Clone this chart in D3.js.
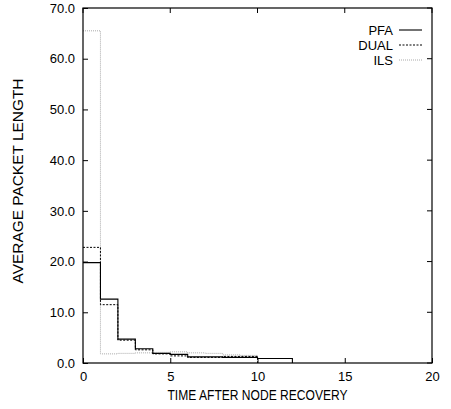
<!DOCTYPE html>
<html>
<head>
<meta charset="utf-8">
<script src="https://cdn.jsdelivr.net/npm/d3@7"></script>
<style>
  body { margin: 0; background: #fff; }
  text { font-family: "Liberation Sans", Arial, sans-serif; font-size: 12px; fill: #000; }
</style>
</head>
<body>
<div id="chart"></div>
<script>
// step values, one per unit interval starting at x = 0
const seriesNames = ['PFA', 'DUAL', 'ILS'];
const pfaValues = [19.8, 12.6, 4.7, 2.8, 1.9, 1.7, 1.2, 1.2, 1.1, 1.1, 0.9, 0.9];
const dualValues = [22.8, 11.5, 4.5, 2.6, 1.8, 1.4, 1.1, 1.1, 1.3, 1.3];
const ilsValues = [65.5, 1.8, 1.9, 2.0, 2.1, 2.2, 2.0, 1.9, 1.6, 1.5];
const xTicks = [0, 5, 10, 15, 20];
const yTicks = [0, 10, 20, 30, 40, 50, 60, 70];

const width = 451;
const height = 409;
const margin = { top: 8, right: 19, bottom: 46, left: 83 };
const innerWidth = width - margin.left - margin.right;
const innerHeight = height - margin.top - margin.bottom;
const fontFamily = '"Liberation Sans", Arial, sans-serif';

const svg = d3.select('#chart')
    .append('svg')
    .attr('width', width)
    .attr('height', height);

const chart = svg.append('g')
    .attr('transform', `translate(${margin.left}, ${margin.top})`);

const xScale = d3.scaleLinear().domain([0, 20]).range([0, innerWidth]);
const yScale = d3.scaleLinear().domain([0, 70]).range([innerHeight, 0]);

// axes with inward ticks
const tickLen = 5;
chart.append('g')
    .attr('transform', `translate(0, ${innerHeight})`)
    .call(d3.axisBottom(xScale).tickValues(xTicks).tickSizeInner(-tickLen).tickSizeOuter(0).tickPadding(9))
    .call(g => g.select('.domain').remove());
chart.append('g')
    .call(d3.axisLeft(yScale).tickValues(yTicks).tickSizeInner(-tickLen).tickSizeOuter(0).tickPadding(8).tickFormat(d3.format('.1f')))
    .call(g => g.select('.domain').remove());

// mirrored ticks on top and right (no labels)
chart.selectAll('.top-tick')
    .data(xTicks)
    .enter()
    .append('line')
    .attr('x1', d => xScale(d))
    .attr('x2', d => xScale(d))
    .attr('y1', 0)
    .attr('y2', tickLen);
chart.selectAll('.right-tick')
    .data(yTicks)
    .enter()
    .append('line')
    .attr('x1', innerWidth)
    .attr('x2', innerWidth - tickLen)
    .attr('y1', d => yScale(d))
    .attr('y2', d => yScale(d));

chart.selectAll('line').attr('stroke', '#000');
chart.selectAll('.tick text')
    .style('font-family', fontFamily)
    .style('font-size', '13px')
    .attr('fill', '#000');

// step lines
const series = [
    { name: seriesNames[0], values: pfaValues, color: '#000', dash: null, width: 1.1 },
    { name: seriesNames[1], values: dualValues, color: '#000', dash: '2,1.5', width: 1 },
    { name: seriesNames[2], values: ilsValues, color: '#aaa', dash: '1,1', width: 1 }
];

const line = d3.line()
    .x(d => xScale(d[0]))
    .y(d => yScale(d[1]))
    .curve(d3.curveStepAfter);

series.slice().reverse().forEach(s => {
    const pts = s.values.map((v, i) => [i, v]);
    pts.push([s.values.length, s.values[s.values.length - 1]]);
    pts.push([s.values.length, 0]);
    chart.append('path')
        .datum(pts)
        .attr('fill', 'none')
        .attr('stroke', s.color)
        .attr('stroke-width', s.width)
        .attr('stroke-dasharray', s.dash)
        .attr('d', line);
});

// frame
chart.append('rect')
    .attr('width', innerWidth)
    .attr('height', innerHeight)
    .attr('fill', 'none')
    .attr('stroke', '#000')
    .attr('stroke-width', 1.2);

// legend
const legend = chart.append('g')
    .attr('transform', `translate(${innerWidth - 33}, 22)`);
series.forEach((s, i) => {
    const g = legend.append('g').attr('transform', `translate(0, ${i * 15})`);
    g.append('text')
        .attr('x', -6)
        .attr('y', 4.5)
        .style('font-size', '13px')
        .style('text-anchor', 'end')
        .text(s.name);
    g.append('line')
        .attr('x1', 0)
        .attr('x2', 23)
        .attr('stroke', s.color)
        .attr('stroke-width', s.width)
        .attr('stroke-dasharray', s.dash);
});

// axis labels
svg.append('text')
    .attr('x', margin.left + innerWidth / 2)
    .attr('y', height - 9)
    .attr('textLength', 180)
    .attr('lengthAdjust', 'spacingAndGlyphs')
    .style('font-size', '14px')
    .style('text-anchor', 'middle')
    .text('TIME AFTER NODE RECOVERY');

svg.append('text')
    .attr('transform', 'rotate(-90)')
    .attr('x', -181)
    .attr('y', 23)
    .attr('textLength', 205)
    .attr('lengthAdjust', 'spacingAndGlyphs')
    .style('font-size', '14px')
    .style('text-anchor', 'middle')
    .text('AVERAGE PACKET LENGTH');
</script>
</body>
</html>
